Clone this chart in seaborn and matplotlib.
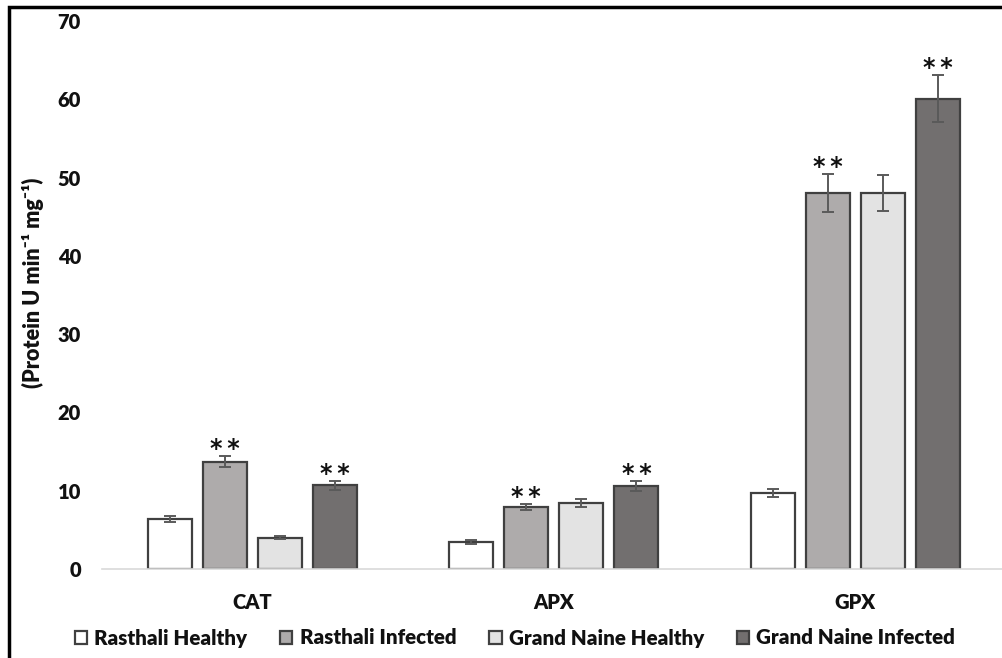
import matplotlib
matplotlib.use("Agg")
import matplotlib.pyplot as plt
import seaborn as sns
import pandas as pd
from matplotlib.patches import Rectangle

enzymes = ["CAT", "APX", "GPX"]
groups = ["Rasthali Healthy", "Rasthali Infected", "Grand Naine Healthy", "Grand Naine Infected"]
rasthali_healthy = [6.4, 3.45, 9.7]
rasthali_infected = [13.7, 7.9, 48.0]
grand_naine_healthy = [4.0, 8.4, 48.0]
grand_naine_infected = [10.7, 10.6, 60.1]
err_rasthali_healthy = [0.4, 0.2, 0.5]
err_rasthali_infected = [0.7, 0.4, 2.4]
err_grand_naine_healthy = [0.2, 0.5, 2.3]
err_grand_naine_infected = [0.6, 0.6, 3.0]
significant = [False, True, False, True]
yticks = [0, 10, 20, 30, 40, 50, 60, 70]

values = [rasthali_healthy, rasthali_infected, grand_naine_healthy, grand_naine_infected]
errors = [err_rasthali_healthy, err_rasthali_infected, err_grand_naine_healthy, err_grand_naine_infected]
rows = []
for g, vals in zip(groups, values):
    for e, v in zip(enzymes, vals):
        rows.append({"enzyme": e, "group": g, "value": v})
df = pd.DataFrame(rows)

sns.set_theme(style="white")
plt.rcParams["font.family"] = ["Lato", "DejaVu Sans"]
plt.rcParams["font.weight"] = "bold"

colors = ["#FFFFFF", "#AFAAAA", "#E3E3E3", "#736E6E"]
fig = plt.figure(figsize=(10.03, 6.58), dpi=100)
ax = fig.add_axes([101.75 / 1003, 89 / 658, (1006 - 101.75) / 1003, (569 - 21) / 658])

sns.barplot(data=df, x="enzyme", y="value", hue="group", order=enzymes, hue_order=groups,
            palette=colors, edgecolor="#404040", linewidth=1.6, errorbar=None,
            width=0.73, gap=0.2, ax=ax, legend=True)

for cont, errs, sig in zip(ax.containers, errors, significant):
    for bar, err in zip(cont, errs):
        xc = bar.get_x() + bar.get_width() / 2
        h = bar.get_height()
        ax.errorbar(xc, h, yerr=err, fmt="none", ecolor="#5A5A5A", elinewidth=1.4,
                    capsize=4.5, capthick=1.4, zorder=5)
        if sig:
            ax.annotate("*\u2009*", xy=(xc, h + err), xytext=(0, 0), textcoords="offset pixels",
                        ha="center", va="baseline", fontsize=17, fontweight="bold",
                        family="DejaVu Sans", color="#111111")

ax.set_xlim(-0.5, 2.5)
ax.set_ylim(0, 70)
ax.set_yticks(yticks)
ax.set_yticklabels([str(t) for t in yticks])
ax.tick_params(axis="both", length=0, labelsize=14.5, colors="#111111")
ax.tick_params(axis="y", pad=15)
ax.tick_params(axis="x", pad=17)
for lab in ax.get_xticklabels() + ax.get_yticklabels():
    lab.set_fontweight("heavy")
ax.set_xlabel("")
ax.set_ylabel("")
for s in ["top", "right", "left"]:
    ax.spines[s].set_visible(False)
ax.spines["bottom"].set_color("#D9D9D9")
ax.spines["bottom"].set_linewidth(1.2)

fig.text(33 / 1003, 1 - 283 / 658, "(Protein U min\u207b\u00b9 mg\u207b\u00b9)",
         rotation=90, ha="center", va="center", fontsize=15.5, fontweight="heavy", color="#111111")

handles, labels = ax.get_legend_handles_labels()
ax.legend_.remove()
leg = fig.legend(handles, labels, loc="center", bbox_to_anchor=(515 / 1003, 1 - 638 / 658),
                 ncol=4, frameon=False, fontsize=14.8, handlelength=0.6, handleheight=0.6,
                 handletextpad=0.35, columnspacing=1.6)
for t in leg.get_texts():
    t.set_fontweight("heavy")
    t.set_color("#111111")

fig.patches.append(Rectangle((9 / 1003, -0.1), 1.2, 1 - 7 / 658 + 0.1, transform=fig.transFigure,
                             fill=False, edgecolor="black", linewidth=2.5, zorder=10))

fig.savefig("out.png", dpi=100)
